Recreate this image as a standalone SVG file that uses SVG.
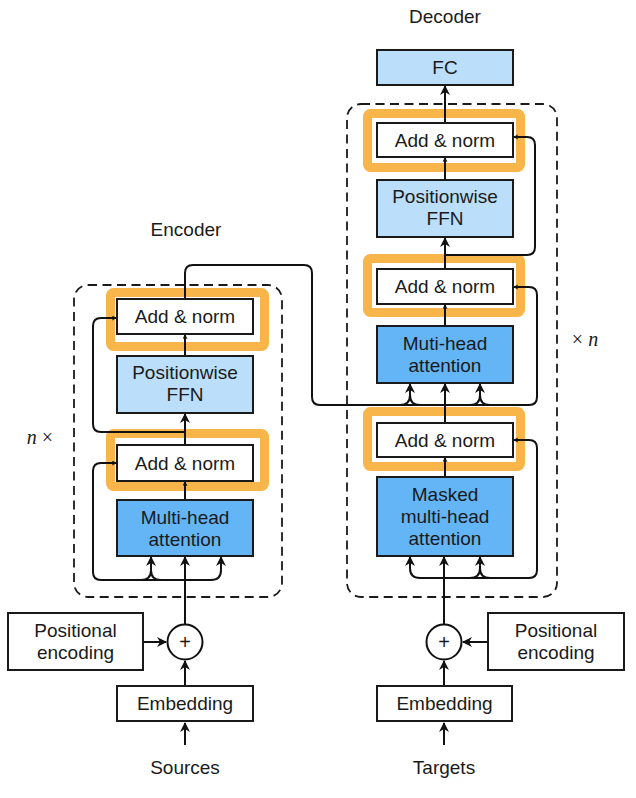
<svg xmlns="http://www.w3.org/2000/svg" width="636" height="798" viewBox="0 0 636 798">
<style>
.box{stroke:#1a1a1a;stroke-width:2;fill:#ffffff}
.lb{fill:#bbdefb}
.db{fill:#64b5f6}
.hl{fill:none;stroke:#f8b54a;stroke-width:9}
.dash{fill:none;stroke:#1a1a1a;stroke-width:1.8;stroke-dasharray:9 5.5}
.t{font-family:"Liberation Sans",Arial,sans-serif;font-size:19px;fill:#1a1a1a;text-anchor:middle}
.ln{fill:none;stroke:#111;stroke-width:2}
</style>
<defs>
<marker id="ah" markerUnits="userSpaceOnUse" markerWidth="12" markerHeight="12" refX="9" refY="5" orient="auto">
<path d="M0,0 L10,5 L0,10 L3,5 Z" fill="#111"/>
</marker>
<marker id="sm" markerUnits="userSpaceOnUse" markerWidth="6" markerHeight="6" refX="4" refY="2.5" orient="auto">
<path d="M0,0 L5,2.5 L0,5 L1,2.5 Z" fill="#111"/>
</marker>
</defs>

<rect id="encoder-block" class="dash" x="74" y="285" width="208" height="312" rx="14"/>
<rect id="decoder-block" class="dash" x="347" y="104" width="210" height="493" rx="14"/>

<g id="highlights">
<rect class="hl" x="110.5" y="292.5" width="154" height="54" rx="3"/>
<rect class="hl" x="110.5" y="433.5" width="154" height="53" rx="3"/>
<rect class="hl" x="367.5" y="113.5" width="153" height="54" rx="3"/>
<rect class="hl" x="367.5" y="258.5" width="153" height="54" rx="3"/>
<rect class="hl" x="367.5" y="411.5" width="153" height="55" rx="3"/>
</g>

<g id="connectors">
<!-- encoder -->
<path class="ln" d="M185,745 L185,723" marker-end="url(#ah)"/>
<path class="ln" d="M185,686 L185,661" marker-end="url(#ah)"/>
<path class="ln" d="M143,642 L166,642" marker-end="url(#ah)"/>
<path class="ln" d="M185,624 L185,557" marker-end="url(#ah)"/>
<path class="ln" d="M221,557 L221,570 Q221,580 211,580 L101,580 Q93,580 93,572 L93,471 Q93,463 101,463 L116,463" />
<path class="ln" d="M141,580 Q151,580 151,570 L151,557" marker-end="url(#ah)"/>
<path class="ln" d="M161,580 Q151,580 151,570"/>
<path class="ln" d="M221,566 L221,557" marker-end="url(#ah)"/>
<path class="ln" d="M185,500 L185,482" marker-end="url(#sm)"/>
<path class="ln" d="M185,445 L185,414" marker-end="url(#ah)"/>
<path class="ln" d="M185,432 L101,432 Q93,432 93,424 L93,326 Q93,318 101,318 L116,318" marker-end="url(#sm)"/>
<path class="ln" d="M101,463 L116,463" marker-end="url(#sm)"/>
<path class="ln" d="M185,356 L185,335" marker-end="url(#sm)"/>
<path class="ln" d="M185,299 L185,273 Q185,265 193,265 L304,265 Q312,265 312,273 L312,397 Q312,405 320,405 L529,405 Q537,405 537,397 L537,295 Q537,287 529,287 L514,287" marker-end="url(#sm)"/>
<!-- decoder -->
<path class="ln" d="M400,405 Q410,405 410,395 L410,384" marker-end="url(#ah)"/>
<path class="ln" d="M420,405 Q410,405 410,395"/>
<path class="ln" d="M470,405 Q480,405 480,395 L480,384" marker-end="url(#ah)"/>
<path class="ln" d="M490,405 Q480,405 480,395"/>
<path class="ln" d="M445,423 L445,384" marker-end="url(#ah)"/>
<path class="ln" d="M444,745 L444,723" marker-end="url(#ah)"/>
<path class="ln" d="M444,686 L444,661" marker-end="url(#ah)"/>
<path class="ln" d="M488,642 L463,642" marker-end="url(#ah)"/>
<path class="ln" d="M444,624 L444,557" marker-end="url(#ah)"/>
<path class="ln" d="M410,557 L410,568 Q410,578 420,578 L529,578 Q537,578 537,570 L537,448 Q537,440 529,440 L514,440" marker-end="url(#sm)"/>
<path class="ln" d="M410,568 L410,557" marker-end="url(#ah)"/>
<path class="ln" d="M470,578 Q480,578 480,568 L480,557" marker-end="url(#ah)"/>
<path class="ln" d="M490,578 Q480,578 480,568"/>
<path class="ln" d="M445,477 L445,458" marker-end="url(#sm)"/>
<path class="ln" d="M445,326 L445,305" marker-end="url(#sm)"/>
<path class="ln" d="M445,269 L445,238" marker-end="url(#ah)"/>
<path class="ln" d="M445,255 L527,255 Q535,255 535,247 L535,145 Q535,137 527,137 L514,137" marker-end="url(#sm)"/>
<path class="ln" d="M445,180 L445,158" marker-end="url(#sm)"/>
<path class="ln" d="M445,123 L445,86" marker-end="url(#ah)"/>
</g>

<g id="enc-addnorm2"><rect class="box" x="117" y="299" width="136" height="35"/><text class="t" x="185" y="323">Add &amp; norm</text></g>
<g id="enc-ffn"><rect class="box lb" x="117" y="356" width="136" height="57"/><text class="t" x="185" y="379">Positionwise</text><text class="t" x="185" y="401">FFN</text></g>
<g id="enc-addnorm1"><rect class="box" x="117" y="445" width="136" height="36"/><text class="t" x="185" y="470">Add &amp; norm</text></g>
<g id="enc-attn"><rect class="box db" x="117" y="500" width="136" height="56"/><text class="t" x="185" y="524">Multi-head</text><text class="t" x="185" y="546">attention</text></g>
<g id="enc-plus"><circle cx="185" cy="642" r="17.5" fill="#fff" stroke="#111" stroke-width="2"/><text class="t" x="185" y="649" style="font-size:20px">+</text></g>
<g id="enc-pos"><rect class="box" x="8" y="613" width="135" height="57"/><text class="t" x="75.5" y="637">Positional</text><text class="t" x="75.5" y="659">encoding</text></g>
<g id="enc-emb"><rect class="box" x="117" y="686" width="136" height="35"/><text class="t" x="185" y="710">Embedding</text></g>
<g id="sources"><text class="t" x="185" y="774">Sources</text></g>
<g id="encoder-label"><text class="t" x="186" y="236">Encoder</text></g>
<g id="enc-n"><text x="40" y="444" style="font-family:'Liberation Serif',serif;font-size:20px;fill:#1a1a1a;text-anchor:middle"><tspan font-style="italic">n</tspan> ×</text></g>

<g id="dec-fc"><rect class="box lb" x="377" y="50" width="136" height="35"/><text class="t" x="445" y="74">FC</text></g>
<g id="dec-addnorm3"><rect class="box" x="377" y="123" width="136" height="34"/><text class="t" x="445" y="147">Add &amp; norm</text></g>
<g id="dec-ffn"><rect class="box lb" x="377" y="180" width="136" height="57"/><text class="t" x="445" y="203">Positionwise</text><text class="t" x="445" y="225">FFN</text></g>
<g id="dec-addnorm2"><rect class="box" x="377" y="269" width="136" height="35"/><text class="t" x="445" y="293">Add &amp; norm</text></g>
<g id="dec-attn"><rect class="box db" x="377" y="326" width="136" height="57"/><text class="t" x="445" y="350">Muti-head</text><text class="t" x="445" y="372">attention</text></g>
<g id="dec-addnorm1"><rect class="box" x="377" y="423" width="136" height="34"/><text class="t" x="445" y="447">Add &amp; norm</text></g>
<g id="dec-masked"><rect class="box db" x="377" y="477" width="136" height="79"/><text class="t" x="445" y="501">Masked</text><text class="t" x="445" y="523">multi-head</text><text class="t" x="445" y="545">attention</text></g>
<g id="dec-plus"><circle cx="444" cy="642" r="17.5" fill="#fff" stroke="#111" stroke-width="2"/><text class="t" x="444" y="649" style="font-size:20px">+</text></g>
<g id="dec-pos"><rect class="box" x="488" y="613" width="136" height="57"/><text class="t" x="556" y="637">Positional</text><text class="t" x="556" y="659">encoding</text></g>
<g id="dec-emb"><rect class="box" x="377" y="686" width="135" height="35"/><text class="t" x="444.5" y="710">Embedding</text></g>
<g id="targets"><text class="t" x="444" y="774">Targets</text></g>
<g id="decoder-label"><text class="t" x="445" y="23">Decoder</text></g>
<g id="dec-n"><text x="585" y="346" style="font-family:'Liberation Serif',serif;font-size:20px;fill:#1a1a1a;text-anchor:middle">× <tspan font-style="italic">n</tspan></text></g>
</svg>
